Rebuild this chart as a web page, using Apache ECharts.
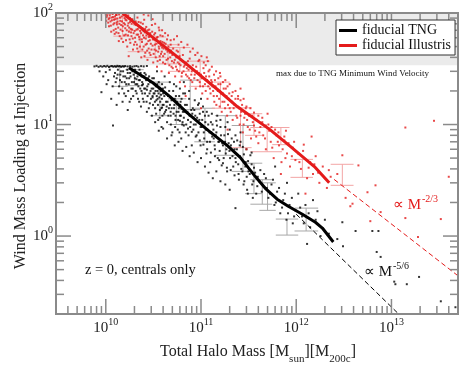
<!DOCTYPE html>
<html><head><meta charset="utf-8">
<script src="https://cdn.jsdelivr.net/npm/echarts@6/dist/echarts.min.js"></script>
<style>html,body{margin:0;padding:0;background:#fff}#c{width:474px;height:366px}</style>
</head><body><div id="c"></div>
<script>
// ---------- data ----------
const xRange = [3e9, 5e13];
const yRange = [0.2, 100];
const xMajorTicks = [1e10, 1e11, 1e12, 1e13];
const xMinorTicks = [4e9,5e9,6e9,7e9,8e9,9e9, 2e10,3e10,4e10,5e10,6e10,7e10,8e10,9e10,
  2e11,3e11,4e11,5e11,6e11,7e11,8e11,9e11, 2e12,3e12,4e12,5e12,6e12,7e12,8e12,9e12, 2e13,3e13,4e13];
const yMajorTicks = [1, 10, 100];
const yMinorTicks = [0.3,0.4,0.5,0.6,0.7,0.8,0.9, 2,3,4,5,6,7,8,9, 20,30,40,50,60,70,80,90];
const bandRange = [34, 100];

const tngLine = [[1.75e10,32.3],[3.12e10,23.7],[4.72e10,17.8],[7.12e10,12.8],[1.16e11,9.0],[1.88e11,6.5],
  [2.58e11,5.07],[3.7e11,3.43],[4.83e11,2.63],[6.3e11,2.14],[8.24e11,1.85],[1.16e12,1.57],[1.59e12,1.33],
  [1.88e12,1.18],[2.45e12,0.885]];
const illLine = [[1.5e10,100],[3e10,62],[7e10,35],[1.5e11,20.5],[2.4e11,14.5],[5.3e11,9.0],[8.6e11,6.4],
  [1.55e12,4.2],[2.22e12,3.0]];
const tngPowerLaw = [[1e12,1.57],[1.19e13,0.2]];
const illPowerLaw = [[2.5e12,3.22],[5e13,0.44]];

const tngPoints = [
 [7.6e9,33.2],[8.0e9,33.6],[8.4e9,32.9],[8.8e9,33.4],[9.2e9,33.0],[9.6e9,33.5],[1.0e10,33.1],[1.04e10,33.6],[1.08e10,32.8],[1.12e10,33.3],[1.16e10,33.5],[1.2e10,33.0],
 [8.6e9,30],[9.4e9,27],[1.0e10,29.5],[1.06e10,25],[1.1e10,31],[1.18e10,22],[9.0e9,19.5],[1.14e10,17],[1.19e10,9.8],[1.02e10,23],
 [1.24e10,33.4],[1.28e10,33.0],[1.32e10,33.6],[1.36e10,33.2],[1.4e10,33.5],[1.45e10,32.9],[1.5e10,33.4],[1.55e10,33.1],[1.6e10,33.5],[1.7e10,33.2],[1.8e10,33.4],[1.9e10,33.0],
 [1.25e10,29],[1.3e10,26],[1.34e10,31],[1.38e10,22],[1.42e10,28],[1.47e10,24],[1.52e10,30],[1.56e10,19],[1.6e10,27],[1.64e10,23],[1.68e10,31],[1.72e10,20],[1.76e10,26],[1.8e10,29],[1.84e10,17],[1.88e10,24],[1.92e10,21],[1.96e10,28],[1.3e10,15],[1.5e10,16],[1.7e10,13.5],
 [2.0e10,33.3],[2.1e10,33.5],[2.2e10,33.0],[2.35e10,33.4],[2.5e10,33.2],[2.7e10,33.5],[2.02e10,26],[2.06e10,20],[2.1e10,29],[2.14e10,23],[2.18e10,17],[2.22e10,25],[2.26e10,31],[2.3e10,21],[2.34e10,14.5],[2.38e10,27],[2.42e10,19],[2.46e10,23],[2.5e10,16],[2.55e10,29],[2.6e10,21],[2.65e10,25],[2.7e10,13],[2.75e10,18],[2.8e10,23],[2.85e10,27],[2.9e10,15.5],[2.95e10,20],[3.0e10,24],[3.05e10,12],[3.1e10,17.5],[3.15e10,21],
 [3.2e10,26],[3.25e10,19],[3.3e10,14],[3.35e10,22],[3.4e10,16.5],[3.45e10,30],[3.5e10,20],[3.55e10,11],[3.6e10,24],[3.65e10,17.5],[3.7e10,13.5],[3.75e10,21],[3.8e10,18.5],[3.85e10,9.5],[3.9e10,23],[3.95e10,15],[4.0e10,19],[4.1e10,12.5],[4.2e10,21.5],[4.3e10,16],[4.4e10,10.5],[4.5e10,18],[4.6e10,14],[4.7e10,24],[4.8e10,12],[4.9e10,16.5],[5.0e10,8.5],[4.15e10,27],
 [5.1e10,20],[5.2e10,14],[5.3e10,17],[5.4e10,11],[5.5e10,22],[5.6e10,15.5],[5.7e10,9],[5.8e10,13],[5.9e10,18],[6.0e10,12],[6.1e10,16],[6.2e10,7.5],[6.3e10,14],[6.4e10,10.5],[6.5e10,19],[6.7e10,13],[6.9e10,8.5],[7.1e10,15],[7.3e10,11],[7.5e10,17],[7.7e10,9.5],[7.9e10,13.5],[8.0e10,6.5],[6.6e10,24],
 [8.2e10,14],[8.4e10,10],[8.7e10,12],[9.0e10,8],[9.3e10,15],[9.6e10,11],[9.9e10,6.5],[1.02e11,9.5],[1.05e11,13],[1.08e11,7.5],[1.11e11,10.5],[1.14e11,5.5],[1.17e11,9],[1.2e11,12],[1.24e11,7],[1.28e11,8.5],[1.0e11,17],[1.25e11,4.6],
 [1.32e11,10],[1.36e11,7.5],[1.4e11,6],[1.45e11,8.5],[1.5e11,5],[1.55e11,7],[1.6e11,9.5],[1.65e11,4.3],[1.7e11,6.5],[1.76e11,8],[1.82e11,5.5],[1.88e11,3.8],[1.95e11,6.8],[2.02e11,5],[2.1e11,7.5],[2.18e11,4.2],[1.48e11,12],[1.9e11,10.5],
 [2.25e11,6],[2.32e11,4.6],[2.4e11,7.2],[2.48e11,3.6],[2.56e11,5.2],[2.65e11,4],[2.75e11,6.3],[2.85e11,3.1],[2.95e11,4.6],[3.05e11,2.6],[3.15e11,3.8],[3.3e11,5.3],[3.45e11,2.9],[3.6e11,4.1],[3.8e11,2.4],[3.95e11,3.4],[2.3e11,1.78],[2.6e11,8.5],
 [4.2e11,3.9],[4.5e11,2.8],[4.8e11,3.3],[5.1e11,2.2],[5.5e11,2.9],[5.9e11,1.9],[6.3e11,2.5],[6.8e11,1.6],[7.3e11,2.1],[7.9e11,1.4],[8.5e11,1.9],[9.2e11,1.3],[9.8e11,1.7],[6.0e11,4.2],[8.0e11,3.0],
 [1.05e12,2.4],[1.15e12,1.5],[1.25e12,1.9],[1.4e12,1.2],[1.5e12,2.1],[1.67e12,1.67],[1.8e12,1.0],[2.0e12,1.4],[2.2e12,1.05],[1.3e12,0.85],
 [3.05e12,1.33],[4.2e12,1.11],[7.3e12,1.11],[3.1e12,0.81],[7e12,0.72],[7.7e12,0.65],[1.1e13,0.37],[1.45e13,0.37],[1.95e13,0.43],[3.3e13,0.26],[2.7e12,0.94],[6.3e12,1.11],[4.7e13,0.23],[1.07e13,0.39],
 [1.22e10,27],[1.27e10,24],[1.33e10,28],[1.37e10,19],[1.41e10,25],[1.44e10,30],[1.49e10,21],[1.53e10,27],[1.58e10,24],[1.62e10,18],[1.66e10,26],[1.7e10,29],[1.74e10,23],[1.78e10,16],[1.82e10,27],[1.86e10,21],[1.9e10,30],[1.94e10,18],[1.98e10,24],
 [2.03e10,31],[2.07e10,23],[2.11e10,19],[2.15e10,27],[2.2e10,22],[2.24e10,16],[2.28e10,25],[2.32e10,29],[2.37e10,20],[2.41e10,24],[2.45e10,17],[2.49e10,27],[2.53e10,21],[2.58e10,19],[2.63e10,28],[2.68e10,16],[2.73e10,22],[2.78e10,26],[2.83e10,14],[2.88e10,19],[2.93e10,24],[2.98e10,17],[3.03e10,21],[3.08e10,26],[3.13e10,15],[3.18e10,19],
 [3.23e10,23],[3.28e10,16],[3.33e10,20],[3.38e10,12.5],[3.43e10,18],[3.48e10,23],[3.53e10,15],[3.58e10,19],[3.63e10,21],[3.68e10,11.5],[3.73e10,16],[3.78e10,20],[3.83e10,14],[3.88e10,17],[3.93e10,12],[3.98e10,21],[4.05e10,15],[4.12e10,18],[4.2e10,13],[4.28e10,19],[4.36e10,14.5],[4.45e10,16],[4.54e10,12],[4.63e10,20],[4.72e10,15],[4.82e10,10],[4.92e10,14],
 [5.05e10,17],[5.15e10,12.5],[5.25e10,15],[5.35e10,9.5],[5.45e10,18],[5.55e10,13],[5.65e10,16],[5.75e10,11],[5.85e10,14],[5.95e10,8.5],[6.05e10,15],[6.15e10,12],[6.25e10,17],[6.35e10,10],[6.45e10,13],[6.6e10,11.5],[6.8e10,15],[7.0e10,10],[7.2e10,13],[7.4e10,8],[7.6e10,12],[7.8e10,10.5],[8.1e10,12.5],[8.3e10,9],[8.5e10,13.5],[8.8e10,10],[9.1e10,11.5],[9.4e10,8.5],[9.7e10,12.5],[9.9e10,9.5],
 [1.03e11,11],[1.07e11,8.5],[1.1e11,12],[1.13e11,9],[1.16e11,7],[1.19e11,10],[1.23e11,8.5],[1.27e11,10.5],[1.31e11,7.8],[1.35e11,9],[1.39e11,6.5],[1.43e11,8],[1.47e11,9.8],[1.52e11,7],[1.57e11,5.8],[1.62e11,8],[1.67e11,6.8],[1.73e11,5],[1.79e11,7],[1.85e11,6],[1.92e11,8.2],[1.99e11,5.8],[2.06e11,6.5],[2.14e11,5.2],[2.22e11,7],[2.3e11,5],[2.38e11,6],[2.46e11,4.4],[2.55e11,6.5],[2.63e11,5],[2.72e11,3.8],[2.82e11,5.4],[2.92e11,4.2],[3.02e11,3.4],[3.12e11,4.7],[3.25e11,3.6],[3.4e11,4.4],[3.55e11,3.1],[3.7e11,3.7],[3.9e11,2.8],
 [4.1e11,3.1],[4.35e11,2.5],[4.6e11,3.6],[4.9e11,2.7],[5.3e11,2.4],[5.7e11,3.2],[6.1e11,2.0],[6.6e11,2.7],[7.1e11,1.8],[7.6e11,2.4],[8.2e11,1.6],[9e11,2.2],[9.5e11,1.5],[1.1e12,1.8],[1.2e12,1.3],[1.35e12,1.6],[1.6e12,1.4],
 [3.3e10,10.5],[3.6e10,8.8],[4.0e10,9.2],[4.4e10,7.5],[4.9e10,8],[5.3e10,6.5],[5.8e10,7],[6.4e10,5.8],[7e10,6.3],[7.6e10,5.2],[8.4e10,5.6],[9.2e10,4.6],[1.0e11,5],[1.1e11,4.2],[1.2e11,3.7],[1.33e11,3.3],[1.45e11,3.8],[1.6e11,3.1],[1.8e11,2.9],[2.0e11,2.6],
 [5.2e10,23],[6e10,21],[6.8e10,19],[7.5e10,20],[8.6e10,16.5],[9.5e10,15.5],[1.05e11,14.5],[1.15e11,13],[1.3e11,12.5],[1.45e11,10.8],[1.6e11,11],[1.8e11,9.5],[2e11,9],[2.3e11,8],[2.6e11,7],[3e11,6],[3.4e11,5.6],
 [2.1e10,25.5],[2.4e10,22.5],[2.7e10,20.5],[3.1e10,18],[3.5e10,17],[3.9e10,14.2],[4.3e10,13.5],[4.8e10,13],[5.4e10,12],[6e10,10.8],[6.6e10,9.8],[7.3e10,9.2],[8e10,8.6],[8.8e10,7.8],[9.7e10,7.2],[1.06e11,6.6],[1.16e11,6],[1.27e11,5.6],[1.4e11,5.2],[1.55e11,4.8],[1.7e11,4.5],[1.87e11,4.1],[2.05e11,3.9],[2.25e11,3.5],[2.5e11,3.2],[2.8e11,2.9],[3.1e11,2.4],[3.5e11,2.2]
];

const illPoints = [
 [1.0e10,97],[1.02e10,92],[1.05e10,99],[1.07e10,88],[1.1e10,95],[1.12e10,84],[1.15e10,91],[1.18e10,98],[1.2e10,79],[1.22e10,87],[1.25e10,93],[1.27e10,72],[1.3e10,82],[1.3e10,96],[1.08e10,76],[1.14e10,68],[1.24e10,65],
 [1.32e10,89],[1.35e10,74],[1.38e10,97],[1.4e10,62],[1.42e10,85],[1.45e10,78],[1.47e10,93],[1.5e10,69],[1.52e10,55],[1.55e10,81],[1.58e10,90],[1.6e10,73],[1.62e10,64],[1.65e10,86],[1.68e10,50],[1.7e10,77],[1.72e10,95],[1.75e10,68],[1.78e10,58],[1.8e10,83],[1.83e10,72],[1.86e10,62],[1.9e10,88],[1.93e10,47],[1.96e10,66],[2.0e10,79],[1.37e10,56],[1.57e10,99],[1.74e10,41],
 [2.03e10,60],[2.06e10,84],[2.1e10,71],[2.12e10,52],[2.15e10,91],[2.18e10,64],[2.2e10,45],[2.23e10,76],[2.26e10,58],[2.3e10,69],[2.33e10,82],[2.36e10,40],[2.4e10,55],[2.43e10,73],[2.46e10,63],[2.5e10,50],[2.53e10,87],[2.56e10,67],[2.6e10,44],[2.63e10,59],[2.66e10,75],[2.7e10,53],[2.74e10,38],[2.78e10,65],[2.82e10,48],[2.86e10,71],[2.9e10,57],[2.95e10,42],[3.0e10,62],[3.05e10,78],[3.1e10,51],[3.15e10,36],
 [3.2e10,58],[3.25e10,47],[3.3e10,66],[3.35e10,40],[3.4e10,53],[3.45e10,33],[3.5e10,61],[3.55e10,45],[3.6e10,50],[3.65e10,70],[3.7e10,38],[3.75e10,56],[3.8e10,43],[3.85e10,30],[3.9e10,49],[3.95e10,62],[4.0e10,41],[4.1e10,54],[4.2e10,35],[4.3e10,47],[4.4e10,58],[4.5e10,39],[4.6e10,29],[4.7e10,44],[4.8e10,52],[4.9e10,33],[5.0e10,42],
 [5.1e10,48],[5.2e10,36],[5.35e10,27],[5.5e10,40],[5.6e10,31],[5.75e10,45],[5.9e10,35],[6.0e10,24],[6.15e10,38],[6.3e10,29],[6.45e10,42],[6.6e10,33],[6.8e10,22],[7.0e10,36],[7.2e10,27],[7.4e10,31],[7.6e10,39],[7.8e10,25],[8.0e10,30],[6.9e10,18],[5.8e10,52],
 [8.2e10,34],[8.5e10,26],[8.8e10,21],[9.1e10,30],[9.4e10,37],[9.7e10,24],[1.0e11,28],[1.03e11,19],[1.06e11,32],[1.1e11,23],[1.13e11,27],[1.17e11,17],[1.2e11,30],[1.24e11,21],[1.28e11,25],[1.0e11,14],[1.15e11,40],
 [1.32e11,22],[1.36e11,18],[1.4e11,25],[1.45e11,15],[1.5e11,20],[1.55e11,17],[1.6e11,23],[1.65e11,13],[1.7e11,19],[1.76e11,16],[1.82e11,21],[1.88e11,12],[1.95e11,17],[2.0e11,14],[2.1e11,18],[2.15e11,11],[1.58e11,29],[1.9e11,9],
 [2.25e11,15],[2.35e11,12],[2.45e11,17],[2.55e11,10],[2.65e11,13],[2.75e11,8.5],[2.85e11,11.5],[2.95e11,14],[3.1e11,9.5],[3.2e11,12],[3.35e11,7.5],[3.5e11,10.5],[3.7e11,8.8],[3.85e11,11],[4.0e11,6.8],[2.6e11,21],[3.0e11,6],
 [4.2e11,9.5],[4.5e11,8],[4.8e11,6],[5.1e11,10],[5.4e11,7],[5.8e11,5],[6.2e11,8],[6.6e11,6.5],[7e11,4.6],[7.5e11,7.2],[8e11,5.5],[8.6e11,4.2],[9.2e11,6.2],[9.8e11,4.8],[5.0e11,12.5],[7.8e11,8.8],[6.9e11,3.6],
 [1.05e12,5.5],[1.12e12,4.0],[1.2e12,6.6],[1.3e12,3.3],[1.4e12,4.6],[1.5e12,3.6],[1.6e12,5.2],[1.75e12,3.0],[1.9e12,4.2],[2.1e12,2.7],[2.3e12,3.4],[1.25e12,2.4],[1.45e12,7.8],
 [3.05e12,5.3],[6.8e12,2.85],[5.6e12,2.47],[7.7e12,1.64],[3.7e12,1.85],[3.9e12,1.95],[6.0e12,1.36],[1.4e13,1.45],[3.3e13,1.42],[1.9e13,0.98],[4e13,3.4],[2.8e13,10.8],[1.4e13,9.4],[2.7e12,3.6],[3.3e12,2.2],[4.5e12,4.3],
 [1.01e10,85],[1.03e10,95],[1.06e10,82],[1.09e10,90],[1.11e10,99],[1.13e10,77],[1.16e10,86],[1.19e10,92],[1.21e10,70],[1.23e10,81],[1.26e10,88],[1.28e10,96],[1.29e10,67],[1.31e10,79],[1.33e10,84],[1.36e10,66],[1.39e10,80],[1.41e10,91],[1.43e10,71],[1.46e10,59],[1.48e10,84],[1.51e10,76],[1.53e10,95],[1.56e10,63],[1.59e10,79],[1.61e10,87],[1.63e10,57],[1.66e10,70],[1.69e10,92],[1.71e10,63],[1.73e10,81],[1.76e10,74],[1.79e10,90],[1.81e10,54],[1.84e10,67],[1.87e10,80],[1.89e10,71],[1.92e10,59],[1.95e10,85],[1.98e10,52],
 [2.01e10,69],[2.04e10,55],[2.08e10,78],[2.11e10,64],[2.14e10,48],[2.17e10,72],[2.21e10,83],[2.24e10,61],[2.28e10,50],[2.31e10,75],[2.35e10,66],[2.39e10,58],[2.42e10,47],[2.45e10,80],[2.49e10,69],[2.52e10,60],[2.55e10,41],[2.59e10,72],[2.62e10,52],[2.67e10,63],[2.72e10,46],[2.76e10,70],[2.8e10,56],[2.84e10,61],[2.88e10,44],[2.93e10,66],[2.97e10,53],[3.02e10,47],[3.07e10,68],[3.12e10,58],[3.18e10,43],[3.22e10,64],[3.28e10,52],[3.33e10,57],[3.38e10,46],[3.44e10,60],[3.5e10,37],[3.57e10,54],[3.63e10,48],[3.68e10,41],[3.74e10,63],[3.8e10,51],[3.87e10,45],[3.93e10,55],[3.99e10,36],
 [4.05e10,48],[4.15e10,43],[4.25e10,53],[4.35e10,38],[4.45e10,45],[4.55e10,50],[4.65e10,34],[4.75e10,40],[4.85e10,46],[4.95e10,37],[5.05e10,32],[5.15e10,43],[5.3e10,38],[5.45e10,33],[5.55e10,46],[5.7e10,36],[5.85e10,30],[5.95e10,41],[6.1e10,34],[6.25e10,27],[6.4e10,37],[6.55e10,30],[6.75e10,34],[6.95e10,28],[7.1e10,32],[7.3e10,37],[7.5e10,26],[7.7e10,33],[7.9e10,28],[8.1e10,24],[8.3e10,31],[8.6e10,28],[8.9e10,33],[9.2e10,25],[9.5e10,29],[9.8e10,22],
 [1.02e11,26],[1.05e11,22],[1.08e11,29],[1.12e11,20],[1.16e11,25],[1.19e11,22],[1.22e11,27],[1.26e11,19],[1.3e11,24],[1.34e11,20],[1.38e11,16],[1.42e11,22],[1.47e11,18],[1.52e11,23],[1.57e11,14.5],[1.62e11,19],[1.68e11,16],[1.73e11,21],[1.79e11,14],[1.85e11,18],[1.92e11,15],[1.98e11,19],[2.05e11,13],[2.12e11,16],[2.2e11,14],[2.3e11,17],[2.4e11,11.5],[2.5e11,14],[2.6e11,12],[2.7e11,15],[2.8e11,10],[2.9e11,12.5],[3.05e11,11],[3.25e11,9],[3.45e11,12],[3.6e11,9.8],[3.8e11,7.8],
 [4.1e11,8.5],[4.4e11,10.5],[4.7e11,7.5],[5.2e11,8.8],[5.6e11,6.2],[6e11,9],[6.4e11,7],[7.2e11,6],[7.7e11,5],[8.3e11,6.8],[9e11,5.2],[9.5e11,7],[1.08e12,4.6],[1.18e12,5.8],[1.35e12,4.1],[1.55e12,4.4],[1.7e12,3.7],[2.0e12,3.3],[2.2e12,3.9],
 [5.2e10,58],[5.6e10,62],[6.2e10,55],[6.6e10,49],[7.2e10,52],[7.7e10,45],[8.2e10,48],[8.7e10,42],[9.2e10,44],[9.6e10,38],[1.01e11,41],[1.07e11,36],[1.12e11,34],[1.18e11,37],[1.23e11,31],[1.3e11,33],[1.37e11,28],[1.44e11,30],[1.52e11,26],[1.6e11,27],[1.7e11,24],[1.8e11,25],[1.9e11,22],[2.0e11,23],[2.15e11,19.5],[2.3e11,20],[2.45e11,18],[2.6e11,16.5],[2.8e11,17],[3.0e11,14.5],[3.3e11,14],[3.6e11,12.8],[4.0e11,12],[4.4e11,11.5],[4.8e11,9.8],[5.5e11,9.5],[6.5e11,8.5],[7.5e11,7.8],
 [3.3e10,80],[3.6e10,74],[3.9e10,70],[4.2e10,66],[4.5e10,63],[4.8e10,57],[3.1e10,88],[2.8e10,95],[2.5e10,97]
];

// error bars: [mass, low, high, capMassLow, capMassHigh]
const tngBars = [
 [1.4e10,22,33,1.15e10,1.7e10],[2.0e10,22.3,31,1.6e10,2.5e10],[3.7e10,12,24,2.9e10,4.6e10],[5.5e10,10,17,4.5e10,7e10],
 [7.7e10,13.6,25,6e10,9.8e10],[1.1e11,7,14,8.5e10,1.4e11],[1.8e11,5.3,12,1.4e11,2.3e11],[2.76e11,3.8,9.8,2.1e11,3.6e11],
 [3.6e11,2.4,4.5,2.9e11,4.4e11],[4.4e11,1.93,3.2,3.3e11,5.6e11],[5e11,1.7,3.0,4.1e11,6.1e11],
 [8.0e11,1.02,1.42,6.1e11,1.05e12],[1.27e12,1.11,1.78,9.6e11,1.7e12]
];
const illBars = [
 [1.5e10,62,90,1.2e10,1.8e10],[2.3e10,45,70,1.7e10,2.7e10],[3.3e10,40,61,2.5e10,4.3e10],[4.5e10,35,52,3.6e10,5.6e10],
 [6e10,30,49,4.5e10,7.7e10],[9.8e10,22,37,7.5e10,1.25e11],[1.6e11,14,24,1.3e11,2.0e11],
 [2.6e11,6.2,14.1,2.0e11,3.4e11],[3.6e11,8,12.5,2.9e11,4.4e11],[4.95e11,5.7,9.4,3.3e11,7.1e11],[6.9e11,6.6,9.4,5.6e11,8.5e11],
 [1.16e12,3.36,4.87,8.7e11,1.5e12],[3.05e12,2.85,4.4,2.3e12,4.0e12]
];

// ---------- chart ----------
const SERIF = 'Liberation Serif';
const AX = '#8a8a8a';
const RED = '#e41b1b';
function isPow10(v){ const l = Math.log10(v); return Math.abs(l - Math.round(l)) < 1e-6; }
function powLabel(v){ return isPow10(v) ? '{b|10}{s|' + Math.round(Math.log10(v)) + '}' : ''; }
const labelRich = {
  b: {fontFamily: SERIF, fontSize: 15, lineHeight: 16, color: '#222', verticalAlign: 'bottom'},
  s: {fontFamily: SERIF, fontSize: 10, lineHeight: 10, color: '#222', padding: [0,0,9,0], verticalAlign: 'bottom'}
};

const tickData = [];
xMajorTicks.forEach(v => tickData.push([v, 1, 0, 15]));
xMinorTicks.forEach(v => tickData.push([v, 1, 0, 8]));
yMajorTicks.forEach(v => tickData.push([1e10, v, 1, 15]));
yMinorTicks.forEach(v => tickData.push([1e10, v, 1, 8]));

function barRenderer(color){
  return function(params, api){
    const xc = api.value(0), lo = api.value(1), hi = api.value(2), xl = api.value(3), xh = api.value(4);
    const a = api.coord([xc, lo]), b = api.coord([xc, hi]);
    const c1 = api.coord([xl, lo]), c2 = api.coord([xh, lo]);
    const d1 = api.coord([xl, hi]), d2 = api.coord([xh, hi]);
    const st = {stroke: color, lineWidth: 1};
    return {type: 'group', children: [
      {type: 'line', shape: {x1: a[0], y1: a[1], x2: b[0], y2: b[1]}, style: st},
      {type: 'line', shape: {x1: c1[0], y1: c1[1], x2: c2[0], y2: c2[1]}, style: st},
      {type: 'line', shape: {x1: d1[0], y1: d1[1], x2: d2[0], y2: d2[1]}, style: st}
    ]};
  };
}

const chart = echarts.init(document.getElementById('c'), null, {renderer: 'canvas'});
chart.setOption({
  animation: false,
  backgroundColor: '#fff',
  grid: {left: 56, right: 16, top: 13, bottom: 52, show: false},
  xAxis: {type: 'log', logBase: 10, min: xRange[0], max: xRange[1],
    axisLine: {show: false}, axisTick: {show: false}, splitLine: {show: false}, minorTick: {show: false},
    axisLabel: {formatter: powLabel, rich: labelRich, margin: 6, showMinLabel: true, showMaxLabel: true}},
  yAxis: {type: 'log', logBase: 10, min: yRange[0], max: yRange[1],
    axisLine: {show: false}, axisTick: {show: false}, splitLine: {show: false}, minorTick: {show: false},
    axisLabel: {formatter: powLabel, rich: labelRich, margin: 3, showMinLabel: true, showMaxLabel: true}},
  legend: {data: ['fiducial TNG', 'fiducial Illustris'], orient: 'vertical', left: 336, top: 20,
    padding: [3, 4, 2, 3], itemGap: 0, itemWidth: 18, itemHeight: 3, icon: 'rect', itemTextGap: 6,
    borderColor: '#333', borderWidth: 1, backgroundColor: '#fff', z: 10,
    textStyle: {fontFamily: SERIF, fontSize: 14, color: '#111', lineHeight: 15}},
  graphic: [
    {type: 'text', x: 276, y: 74, z: 20, style: {text: 'max due to TNG Minimum Wind Velocity', font: '9px "Liberation Serif"', fill: '#111', textVerticalAlign: 'middle'}},
    {type: 'text', x: 85, y: 270, z: 20, style: {text: 'z = 0, centrals only', font: '14.5px "Liberation Serif"', fill: '#111', textVerticalAlign: 'middle'}},
    {type: 'text', x: 393, y: 205.5, z: 20, style: {text: '\u221D M', font: '15px "Liberation Serif"', fill: RED, textVerticalAlign: 'middle'}},
    {type: 'text', x: 422, y: 199, z: 20, style: {text: '-2/3', font: '10px "Liberation Serif"', fill: RED, textVerticalAlign: 'middle'}},
    {type: 'text', x: 364, y: 272, z: 20, style: {text: '\u221D M', font: '15px "Liberation Serif"', fill: '#111', textVerticalAlign: 'middle'}},
    {type: 'text', x: 393, y: 266, z: 20, style: {text: '-5/6', font: '10px "Liberation Serif"', fill: '#111', textVerticalAlign: 'middle'}},
    {type: 'text', x: 21, y: 166, rotation: Math.PI / 2, z: 20, style: {text: 'Wind Mass Loading at Injection', font: '16px "Liberation Serif"', fill: '#222', textAlign: 'center', textVerticalAlign: 'middle'}},
    {type: 'text', x: 258, y: 344, z: 20, style: {
      text: '{a|Total Halo Mass [M}{b|sun}{a|][M}{b|200c}{a|]}', textAlign: 'center', textVerticalAlign: 'top',
      rich: {a: {fontFamily: SERIF, fontSize: 16, lineHeight: 18, fill: '#222', verticalAlign: 'top'},
             b: {fontFamily: SERIF, fontSize: 11, lineHeight: 11, fill: '#222', padding: [10,0,0,0], verticalAlign: 'top'}}}}
  ],
  series: [
    {type: 'custom', name: 'band', z: 1, silent: true, data: [[1e10, bandRange[0], bandRange[1]]],
      encode: {x: 0, y: 1},
      renderItem: function(params, api){
        const cs = params.coordSys;
        const y1 = api.coord([1e10, api.value(1)])[1], y2 = api.coord([1e10, api.value(2)])[1];
        return {type: 'rect', shape: {x: cs.x, y: y2, width: cs.width, height: y1 - y2}, style: {fill: '#ebebeb'}};
      }},
    {type: 'custom', name: 'tngBars', z: 2, silent: true, data: tngBars, encode: {x: 0, y: 1}, renderItem: barRenderer('#a8a8a8')},
    {type: 'custom', name: 'illBars', z: 2, silent: true, data: illBars, encode: {x: 0, y: 1}, renderItem: barRenderer('#f3a5a5')},
    {type: 'scatter', name: 'tngPts', z: 3, silent: true, data: tngPoints, symbol: 'rect', symbolSize: 2, itemStyle: {color: '#000'}},
    {type: 'scatter', name: 'illPts', z: 3, silent: true, data: illPoints, symbol: 'rect', symbolSize: 2, itemStyle: {color: RED}},
    {type: 'line', name: 'tngPL', z: 4, silent: true, data: tngPowerLaw, showSymbol: false, lineStyle: {color: '#000', width: 1, type: [5, 3]}},
    {type: 'line', name: 'illPL', z: 4, silent: true, data: illPowerLaw, showSymbol: false, lineStyle: {color: RED, width: 1, type: [5, 3]}},
    {type: 'line', name: 'fiducial TNG', z: 5, silent: true, data: tngLine, showSymbol: false, color: '#000', lineStyle: {color: '#000', width: 3}},
    {type: 'line', name: 'fiducial Illustris', z: 5, silent: true, data: illLine, showSymbol: false, color: RED, lineStyle: {color: RED, width: 3}},
    {type: 'custom', name: 'ticks', z: 6, silent: true, data: tickData, encode: {x: 0, y: 1},
      renderItem: function(params, api){
        const cs = params.coordSys;
        const kind = api.value(2), len = api.value(3);
        const st = {stroke: AX, lineWidth: 1.5};
        if (kind === 0) {
          const px = api.coord([api.value(0), 1])[0];
          return {type: 'group', children: [
            {type: 'line', shape: {x1: px, y1: cs.y + cs.height, x2: px, y2: cs.y + cs.height - len}, style: st},
            {type: 'line', shape: {x1: px, y1: cs.y, x2: px, y2: cs.y + len}, style: st}]};
        }
        const py = api.coord([1e10, api.value(1)])[1];
        return {type: 'group', children: [
          {type: 'line', shape: {x1: cs.x, y1: py, x2: cs.x + len, y2: py}, style: st},
          {type: 'line', shape: {x1: cs.x + cs.width, y1: py, x2: cs.x + cs.width - len, y2: py}, style: st}]};
      }},
    {type: 'custom', name: 'frame', z: 7, silent: true, data: [[1e10, 1]], encode: {x: 0, y: 1},
      renderItem: function(params){
        const cs = params.coordSys;
        return {type: 'rect', shape: {x: cs.x, y: cs.y, width: cs.width, height: cs.height}, style: {stroke: AX, lineWidth: 2, fill: null}};
      }}
  ]
});
</script></body></html>
